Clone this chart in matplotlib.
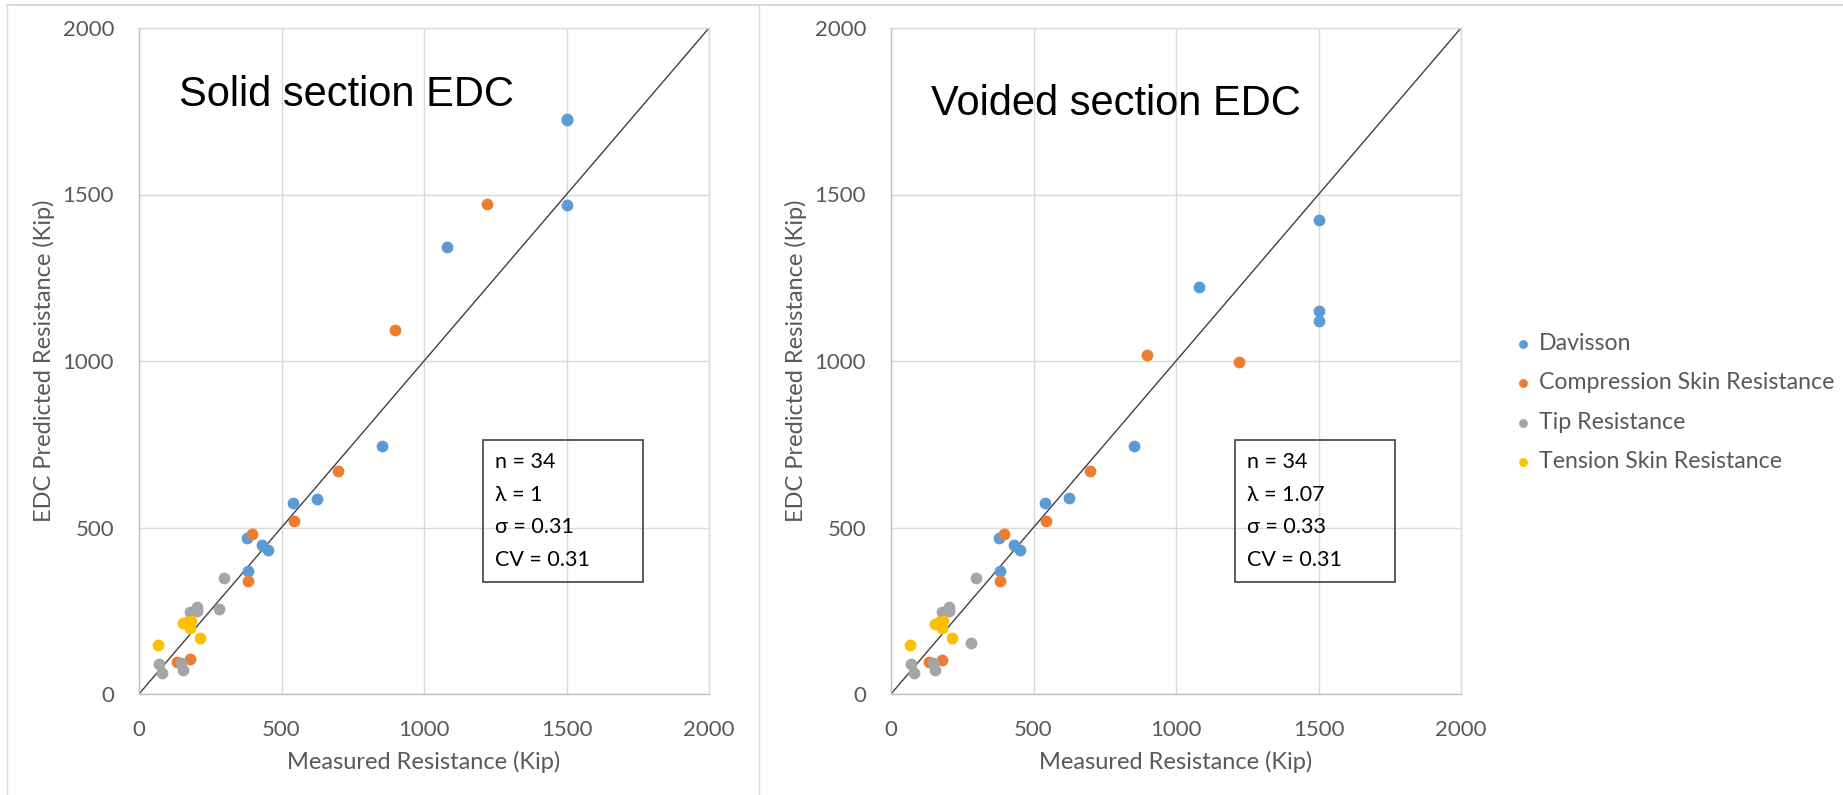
import numpy as np
import matplotlib.pyplot as plt
from matplotlib.lines import Line2D

# measured resistance (kip), shared by both panels
dav_meas = [1500, 1500, 1500, 1080, 851, 540, 625, 379, 430, 452, 381]
comp_meas = [1222, 899, 697, 545, 395, 382, 180, 133]
tip_meas = [298, 282, 180, 202, 202, 71, 80, 146, 156]
ten_meas = [68, 155, 183, 179, 214, 170]

# EDC predicted resistance (kip), solid section
dav_solid = [1728, 1725, 1468, 1341, 745, 573, 587, 467, 446, 432, 368]
comp_solid = [1472, 1092, 671, 519, 480, 338, 104, 96]
tip_solid = [347, 255, 247, 261, 249, 89, 64, 94, 71]
ten_solid = [146, 212, 220, 198, 169, 215]

# EDC predicted resistance (kip), voided section
dav_void = [1424, 1150, 1121, 1223, 746, 574, 588, 469, 448, 433, 369]
comp_void = [996, 1017, 670, 519, 480, 338, 103, 96]
tip_void = [347, 152, 247, 262, 249, 89, 64, 94, 71]
ten_void = [146, 210, 220, 197, 168, 215]

names = ['Davisson', 'Compression Skin Resistance', 'Tip Resistance',
         'Tension Skin Resistance']
colors = ['#5B9BD5', '#ED7D31', '#A5A5A5', '#FFC000']
titles = ['Solid section EDC', 'Voided section EDC']
stats = [['n = 34', 'λ = 1', 'σ = 0.31', 'CV = 0.31'],
         ['n = 34', 'λ = 1.07', 'σ = 0.33', 'CV = 0.31']]
ticks = [0, 500, 1000, 1500, 2000]

GREY = '#595959'
plt.rcParams['font.family'] = ['Lato', 'DejaVu Sans']

fig = plt.figure(figsize=(18.43, 7.95), dpi=100)
W, H = 1843, 795

# faint chart-area borders
fig.add_artist(Line2D([7 / W, 1], [1 - 5 / H] * 2, color='#D9D9D9', lw=1.5))
fig.add_artist(Line2D([7 / W] * 2, [0, 1 - 5 / H], color='#D9D9D9', lw=1))
fig.add_artist(Line2D([759 / W] * 2, [0, 1 - 5 / H], color='#D9D9D9', lw=1))

meas = [dav_meas, comp_meas, tip_meas, ten_meas]
preds = [[dav_solid, comp_solid, tip_solid, ten_solid],
         [dav_void, comp_void, tip_void, ten_void]]
lefts = [139, 891]
title_y = [0.883, 0.869]

for k in range(2):
    ax = fig.add_axes([lefts[k] / W, (H - 694) / H, 570 / W, 666 / H])
    ax.set_xlim(0, 2000)
    ax.set_ylim(0, 2000)
    ax.set_xticks(ticks)
    ax.set_yticks(ticks)
    ax.grid(True, color='#D9D9D9', lw=1)
    ax.set_axisbelow(True)
    for s in ax.spines.values():
        s.set_color('#D9D9D9')
        s.set_linewidth(1)
    ax.spines['left'].set_color('#BFBFBF')
    ax.spines['bottom'].set_color('#BFBFBF')
    ax.tick_params(length=0, labelsize=16, labelcolor=GREY)
    ax.tick_params(axis='x', pad=19)
    ax.tick_params(axis='y', pad=18)

    ax.plot([0, 2000], [0, 2000], color='#404040', lw=1, zorder=2)
    for i in range(4):
        ax.scatter(meas[i], preds[k][i], s=72, color=colors[i], lw=0,
                   label=names[i], zorder=3)

    ax.set_xlabel('Measured Resistance (Kip)', fontsize=17, color=GREY)
    ax.set_ylabel('EDC Predicted Resistance (Kip)', fontsize=17, color=GREY)
    ax.xaxis.set_label_coords(0.5, -0.102)
    ax.yaxis.set_label_coords(-0.166, 0.5)
    ax.xaxis.label.set_va('center')
    ax.yaxis.label.set_va('center')

    ax.text(0.07, title_y[k], titles[k], transform=ax.transAxes,
            fontsize=30, family='Liberation Sans', color='black',
            va='baseline', ha='left')

    # statistics box
    ax.add_patch(plt.Rectangle((0.603, 0.168), 0.281, 0.213,
                               transform=ax.transAxes, fill=False,
                               ec='#404040', lw=1.2, zorder=4))
    for j, line in enumerate(stats[k]):
        ax.text(0.625, 0.340 - j * 0.0495, line, transform=ax.transAxes,
                fontsize=15.5, color='black', va='baseline', ha='left',
                zorder=5)

handles, labels = ax.get_legend_handles_labels()
fig.legend(handles, labels, loc='center left',
           bbox_to_anchor=(1516 / W, (H - 402.5) / H), frameon=False,
           fontsize=16.7, labelcolor=GREY, markerscale=0.75, handlelength=0.6,
           handletextpad=0.4, borderpad=0, borderaxespad=0, labelspacing=0.8)

fig.savefig('out.png', dpi=100)
